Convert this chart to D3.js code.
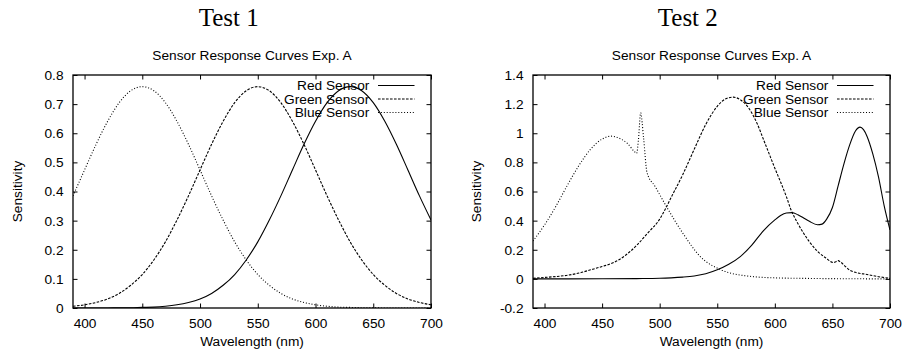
<!DOCTYPE html>
<html>
<head>
<meta charset="utf-8">
<script src="https://cdn.jsdelivr.net/npm/d3@7"></script>
<style>
  html, body { margin: 0; padding: 0; background: #fff; }
  svg { display: block; }
  text { font-family: "Liberation Sans", Arial, Helvetica, sans-serif; fill: #000; }
</style>
</head>
<body>
<svg id="chart" width="906" height="354"></svg>
<script>
// ---------------- DATA ----------------
const panelTitles = ["Test 1", "Test 2"];
const chartTitle = "Sensor Response Curves Exp. A";
const xLabel = "Wavelength (nm)";
const yLabel = "Sensitivity";
const seriesNames = ["Red Sensor", "Green Sensor", "Blue Sensor"];

const xTicks = [400, 450, 500, 550, 600, 650, 700];
const yTicks1 = [0, 0.1, 0.2, 0.3, 0.4, 0.5, 0.6, 0.7, 0.8];
const yTicks2 = [-0.2, 0, 0.2, 0.4, 0.6, 0.8, 1, 1.2, 1.4];

// Test 1 (shared wavelength grid)
const wavelengths1 = [390,400,410,420,430,440,450,460,470,480,490,500,510,520,530,540,550,560,570,580,590,600,610,620,630,640,650,660,670,680,690,700];
const red1   = [0,0,0.0001,0.0002,0.0004,0.0008,0.002,0.003,0.006,0.011,0.019,0.031,0.050,0.078,0.115,0.165,0.227,0.302,0.385,0.474,0.562,0.641,0.705,0.746,0.760,0.746,0.705,0.641,0.562,0.474,0.385,0.302];
const green1 = [0.006,0.011,0.019,0.031,0.050,0.078,0.115,0.165,0.227,0.302,0.385,0.474,0.562,0.641,0.705,0.746,0.760,0.746,0.705,0.641,0.562,0.474,0.385,0.302,0.227,0.165,0.115,0.078,0.050,0.031,0.019,0.011];
const blue1  = [0.385,0.474,0.562,0.641,0.705,0.746,0.760,0.746,0.705,0.641,0.562,0.474,0.385,0.302,0.227,0.165,0.115,0.078,0.050,0.031,0.019,0.011,0.006,0.003,0.002,0.001,0.0004,0.0002,0.0001,0,0,0];

// Test 2 (each series sampled where its shape needs it)
const red2W = [390,450,480,500,510,520,530,540,550,560,570,580,590,600,605,610,615,620,625,630,637,641,645,650,655,660,665,670,674,677,680,685,690,695,700];
const red2V = [0,0.0005,0.002,0.004,0.007,0.012,0.02,0.035,0.062,0.10,0.153,0.232,0.33,0.405,0.435,0.452,0.455,0.44,0.418,0.395,0.372,0.376,0.41,0.49,0.64,0.79,0.92,1.015,1.042,1.025,0.98,0.86,0.70,0.50,0.336];
const green2W = [390,400,410,420,430,440,450,460,470,480,490,500,506,510,520,530,540,550,557,564,570,578,585,590,595,600,605,610,614,620,625,630,637,644,651,653,655,657,660,665,670,680,690,700];
const green2V = [0.004,0.010,0.016,0.025,0.040,0.062,0.085,0.112,0.160,0.230,0.318,0.41,0.496,0.56,0.715,0.89,1.06,1.185,1.235,1.248,1.23,1.165,1.06,0.96,0.86,0.76,0.665,0.565,0.475,0.38,0.313,0.255,0.19,0.145,0.112,0.118,0.125,0.116,0.095,0.06,0.045,0.030,0.015,0.004];
const blue2W = [390,400,410,420,430,440,450,458,465,472,478,480,481.5,483.5,486,489,496,506,520,535,554,578,600,630,660,700];
const blue2V = [0.26,0.37,0.50,0.645,0.78,0.89,0.96,0.98,0.965,0.93,0.875,0.862,0.95,1.14,0.97,0.73,0.635,0.495,0.315,0.155,0.06,0.018,0.007,0.003,0.001,0];

// ---------------- DRAWING ----------------
const svg = d3.select("#chart");
const dashes = [null, "2.6,1.4", "1,1.9"];
const fontSize = 13.7;

function zip(ws, vs) { return ws.map((w, i) => ({ w: w, v: vs[i] })); }

function drawPanel(opt) {
  const x = d3.scaleLinear().domain([390, 700]).range([opt.left, opt.right]);
  const y = d3.scaleLinear().domain(opt.yDomain).range([308, 75]);
  const g = svg.append("g");
  const clipId = "clip" + opt.id;

  g.append("clipPath").attr("id", clipId)
    .append("rect")
    .attr("x", opt.left).attr("y", 75)
    .attr("width", opt.right - opt.left).attr("height", 308 - 75);

  // panel title (serif)
  g.append("text")
    .attr("x", opt.titleX).attr("y", 25.7)
    .attr("text-anchor", "middle")
    .style("font-family", "'Liberation Serif', 'Times New Roman', serif")
    .style("font-size", "25px")
    .text(opt.title);

  // chart title
  g.append("text")
    .attr("x", (opt.left + opt.right) / 2).attr("y", 60)
    .attr("text-anchor", "middle")
    .style("font-size", fontSize + "px")
    .text(chartTitle);

  const tl = 4.5;
  // axes (ticks inward)
  const axB = g.append("g").attr("transform", "translate(0,308)")
    .call(d3.axisBottom(x).tickValues(xTicks).tickSize(-tl).tickSizeOuter(0).tickPadding(10.5).tickFormat(d3.format("d")));
  const axT = g.append("g").attr("transform", "translate(0,75)")
    .call(d3.axisTop(x).tickValues(xTicks).tickSize(-tl).tickSizeOuter(0).tickFormat(""));
  const axL = g.append("g").attr("transform", "translate(" + opt.left + ",0)")
    .call(d3.axisLeft(y).tickValues(opt.yTicks).tickSize(-tl).tickSizeOuter(0).tickPadding(9.5).tickFormat(d => String(+d.toFixed(2))));
  const axR = g.append("g").attr("transform", "translate(" + opt.right + ",0)")
    .call(d3.axisRight(y).tickValues(opt.yTicks).tickSize(-tl).tickSizeOuter(0).tickFormat(""));
  [axB, axT, axL, axR].forEach(a => {
    a.select(".domain").remove();
    a.selectAll("line").attr("stroke", "#000").attr("stroke-width", 1);
    a.selectAll("text")
      .style("font-family", "'Liberation Sans', Arial, Helvetica, sans-serif")
      .style("font-size", fontSize + "px")
      .attr("fill", "#000");
  });

  // frame
  g.append("rect")
    .attr("x", opt.left).attr("y", 75)
    .attr("width", opt.right - opt.left).attr("height", 308 - 75)
    .attr("fill", "none").attr("stroke", "#000").attr("stroke-width", 1.3);

  // axis labels
  g.append("text")
    .attr("x", (opt.left + opt.right) / 2).attr("y", 346)
    .attr("text-anchor", "middle")
    .style("font-size", fontSize + "px")
    .text(xLabel);
  g.append("text")
    .attr("transform", "translate(" + opt.yLabelX + "," + ((75 + 308) / 2) + ") rotate(-90)")
    .attr("text-anchor", "middle")
    .style("font-size", fontSize + "px")
    .text(yLabel);

  // curves + legend
  const line = d3.line().x(d => x(d.w)).y(d => y(d.v)).curve(d3.curveMonotoneX);
  const rowY = [85.5, 99, 112.5];
  opt.series.forEach((s, i) => {
    g.append("path")
      .datum(s)
      .attr("clip-path", "url(#" + clipId + ")")
      .attr("d", line)
      .attr("fill", "none")
      .attr("stroke", "#000")
      .attr("stroke-width", 1.1)
      .attr("stroke-dasharray", dashes[i]);
    g.append("text")
      .attr("x", opt.right - 61.7).attr("y", rowY[i] + 4.6)
      .attr("text-anchor", "end")
      .style("font-size", fontSize + "px")
      .text(seriesNames[i]);
    g.append("line")
      .attr("x1", opt.right - 53).attr("x2", opt.right - 16.5)
      .attr("y1", rowY[i]).attr("y2", rowY[i])
      .attr("stroke", "#000")
      .attr("stroke-width", 1.1)
      .attr("stroke-dasharray", dashes[i]);
  });
}

drawPanel({
  id: 1, title: panelTitles[0], titleX: 228.7,
  left: 73, right: 431, yDomain: [0, 0.8], yTicks: yTicks1, yLabelX: 21.5,
  series: [zip(wavelengths1, red1), zip(wavelengths1, green1), zip(wavelengths1, blue1)]
});
drawPanel({
  id: 2, title: panelTitles[1], titleX: 687.8,
  left: 533, right: 890, yDomain: [-0.2, 1.4], yTicks: yTicks2, yLabelX: 480.5,
  series: [zip(red2W, red2V), zip(green2W, green2V), zip(blue2W, blue2V)]
});
</script>
</body>
</html>
